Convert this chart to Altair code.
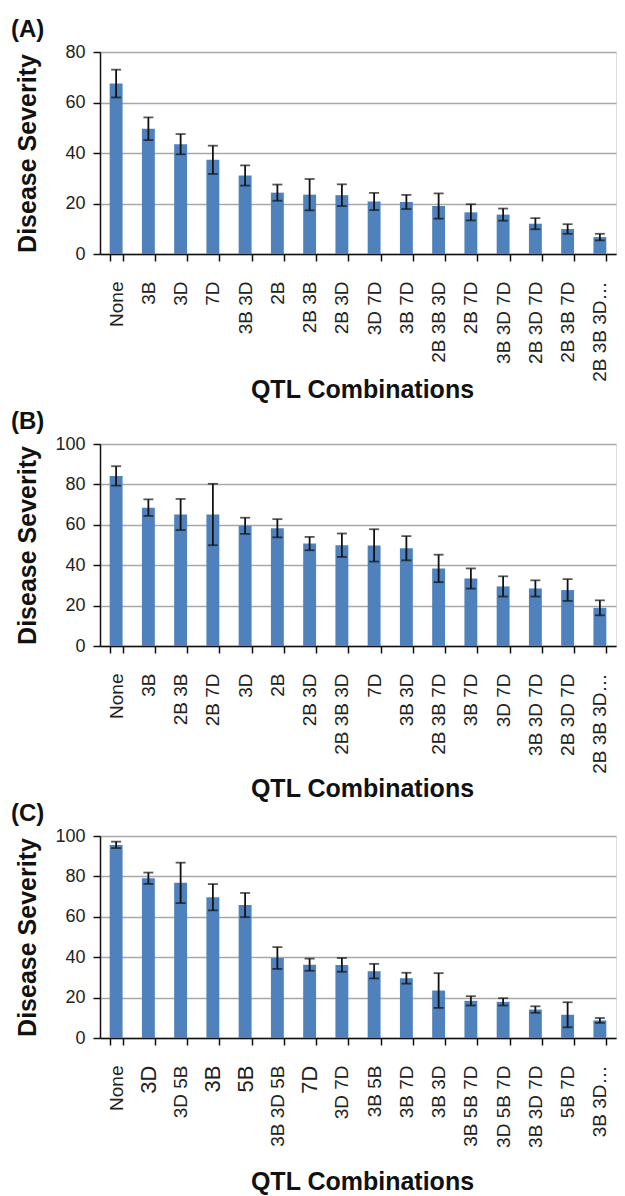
import altair as alt
import pandas as pd

# ---------------- data ----------------
cats_a = ["None", "3B", "3D", "7D", "3B 3D", "2B", "2B 3B", "2B 3D", "3D 7D", "3B 7D",
          "2B 3B 3D", "2B 7D", "3B 3D 7D", "2B 3D 7D", "2B 3B 7D", "2B 3B 3D\u2026"]
mean_a = [67.5, 49.6, 43.5, 37.3, 31.1, 24.3, 23.5, 23.3, 20.8, 20.6, 19.0, 16.5, 15.6, 12.0, 9.9, 6.7]
err_a = [5.5, 4.5, 4.0, 5.6, 4.0, 3.2, 6.2, 4.3, 3.4, 2.8, 5.0, 3.2, 2.4, 2.2, 1.9, 1.3]

cats_b = ["None", "3B", "2B 3B", "2B 7D", "3D", "2B", "2B 3D", "2B 3B 3D", "7D", "3B 3D",
          "2B 3B 7D", "3B 7D", "3D 7D", "3B 3D 7D", "2B 3D 7D", "2B 3B 3D\u2026"]
mean_b = [84.2, 68.5, 65.1, 65.1, 59.5, 58.3, 50.7, 49.9, 49.8, 48.4, 38.4, 33.4, 29.5, 28.5, 27.7, 18.9]
err_b = [4.8, 4.1, 7.7, 15.2, 4.0, 4.5, 3.3, 5.8, 8.0, 6.0, 6.8, 5.0, 5.0, 4.0, 5.4, 3.7]

cats_c = ["None", "3D", "3D 5B", "3B", "5B", "3B 3D 5B", "7D", "3D 7D", "3B 5B", "3B 7D",
          "3B 3D", "3B 5B 7D", "3D 5B 7D", "3B 3D 7D", "5B 7D", "3B 3D\u2026"]
mean_c = [95.6, 79.1, 76.8, 69.7, 65.8, 39.6, 36.3, 36.2, 33.1, 29.6, 23.5, 18.4, 17.9, 14.1, 11.5, 8.7]
err_c = [1.6, 2.8, 10.0, 6.5, 6.0, 5.4, 3.0, 3.4, 3.6, 2.7, 8.6, 2.3, 1.8, 1.6, 6.2, 1.2]

ticks_a = [0, 20, 40, 60, 80]
ticks_bc = [0, 20, 40, 60, 80, 100]

FONT = "Liberation Sans"
W, H = 516, 202
BAR = "#4F81BD"


def panel(tag, cats, means, errs, ymax, yticks, xtitle_y, big_singles=False):
    df = pd.DataFrame({
        "combo": cats,
        "mean": means,
        "lo": [m - e for m, e in zip(means, errs)],
        "hi": [m + e for m, e in zip(means, errs)],
    })
    if big_singles:
        lab_size = alt.condition("length(datum.label) == 2", alt.value(22), alt.value(19))
    else:
        lab_size = 19
    xaxis = alt.Axis(
        title="QTL Combinations", labelAngle=-90, labelAlign="right", labelBaseline="middle",
        labelPadding=20, tickSize=7, tickBand="extent", labelFontSize=lab_size,
        labelFont=FONT, labelColor="#222", titleFont=FONT, titleFontSize=25,
        titleFontWeight="bold", titleColor="#111", titleX=262, titleY=xtitle_y,
        titleBaseline="alphabetic", domainColor="#111", domainWidth=1.5,
        tickColor="#111", tickWidth=1.5, grid=False, labelOverlap=False, labelLimit=0,
    )
    yaxis = alt.Axis(
        values=yticks, tickSize=7, labelPadding=8, labelFontSize=18, labelFont=FONT,
        labelColor="#222", titleFont=FONT, titleFontSize=25, titleFontWeight="bold",
        titleColor="#111", titleX=-65, titleY=H / 2, titleBaseline="alphabetic",
        domainColor="#111", domainWidth=1.5, tickColor="#111", tickWidth=1.5,
        gridColor="#a8a8a8", gridWidth=1.3,
    )
    xenc = alt.X("combo:N", sort=cats, title="QTL Combinations",
                 scale=alt.Scale(paddingInner=0.6, paddingOuter=0.3), axis=xaxis)
    yscale = alt.Scale(domain=[0, ymax], nice=False)

    base = alt.Chart(df)
    bars = base.mark_bar(color=BAR).encode(
        x=xenc, y=alt.Y("mean:Q", scale=yscale, axis=yaxis, title="Disease Severity"))
    rules = base.mark_rule(color="#111", strokeWidth=1.8).encode(
        x=xenc, y=alt.Y("lo:Q", scale=yscale, axis=yaxis, title="Disease Severity"), y2="hi:Q")
    cap_hi = base.mark_tick(color="#111", size=10, thickness=1.8).encode(
        x=xenc, y=alt.Y("hi:Q", scale=yscale, axis=yaxis, title="Disease Severity"))
    cap_lo = base.mark_tick(color="#111", size=10, thickness=1.8).encode(
        x=xenc, y=alt.Y("lo:Q", scale=yscale, axis=yaxis, title="Disease Severity"))
    label = alt.Chart(pd.DataFrame({"t": [tag]})).mark_text(
        font=FONT, fontSize=24, fontWeight="bold", align="left", baseline="alphabetic",
        color="#111").encode(text="t:N", x=alt.value(-89), y=alt.value(-15))
    return alt.layer(bars, rules, cap_hi, cap_lo, label).properties(width=W, height=H)


pa = panel("(A)", cats_a, mean_a, err_a, 80, ticks_a, 143)
pb = panel("(B)", cats_b, mean_b, err_b, 100, ticks_bc, 150)
pc = panel("(C)", cats_c, mean_c, err_c, 100, ticks_bc, 151, big_singles=True)

chart = alt.vconcat(pa, pb, pc, spacing=190, bounds="flush").properties(
    padding={"left": 2, "top": 9, "right": 0, "bottom": 0}
).configure_view(stroke=None).configure(background="white")

chart.save("out.html", embed_options={"renderer": "svg", "actions": False})
